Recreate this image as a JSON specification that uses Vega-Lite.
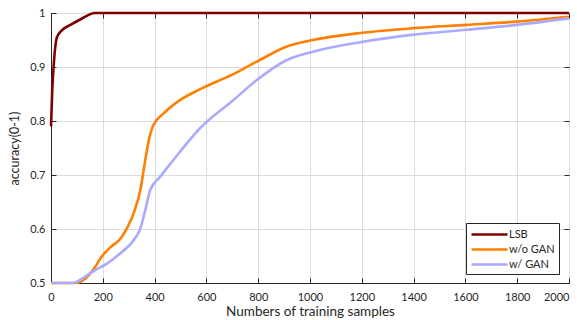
{
  "$schema": "https://vega.github.io/schema/vega-lite/v6.json",
  "width": 518,
  "height": 270,
  "autosize": {"type": "none"},
  "padding": {"left": 51, "top": 13, "right": 8, "bottom": 37},
  "background": "white",
  "config": {
    "font": "Lato",
    "view": {"stroke": "#262626", "strokeWidth": 1},
    "axis": {
      "labelFont": "Lato",
      "titleFont": "Lato",
      "labelFontSize": 11,
      "titleFontSize": 12.5,
      "titleFontWeight": "normal",
      "labelColor": "#262626",
      "titleColor": "#262626",
      "domainColor": "#262626",
      "tickColor": "#262626",
      "gridColor": "#dcdcdc",
      "gridWidth": 1
    }
  },
  "data": {
    "values": [
      {"n": 0, "acc": 0.790, "s": "LSB"},
      {"n": 5, "acc": 0.860, "s": "LSB"},
      {"n": 10, "acc": 0.900, "s": "LSB"},
      {"n": 16, "acc": 0.935, "s": "LSB"},
      {"n": 23, "acc": 0.955, "s": "LSB"},
      {"n": 42, "acc": 0.968, "s": "LSB"},
      {"n": 75, "acc": 0.978, "s": "LSB"},
      {"n": 113, "acc": 0.988, "s": "LSB"},
      {"n": 170, "acc": 1.0, "s": "LSB"},
      {"n": 500, "acc": 1.0, "s": "LSB"},
      {"n": 1000, "acc": 1.0, "s": "LSB"},
      {"n": 1500, "acc": 1.0, "s": "LSB"},
      {"n": 2000, "acc": 1.0, "s": "LSB"},

      {"n": 0, "acc": 0.5, "s": "w/o GAN"},
      {"n": 94, "acc": 0.5, "s": "w/o GAN"},
      {"n": 132, "acc": 0.508, "s": "w/o GAN"},
      {"n": 171, "acc": 0.530, "s": "w/o GAN"},
      {"n": 190, "acc": 0.545, "s": "w/o GAN"},
      {"n": 229, "acc": 0.566, "s": "w/o GAN"},
      {"n": 268, "acc": 0.582, "s": "w/o GAN"},
      {"n": 293, "acc": 0.601, "s": "w/o GAN"},
      {"n": 319, "acc": 0.629, "s": "w/o GAN"},
      {"n": 345, "acc": 0.672, "s": "w/o GAN"},
      {"n": 364, "acc": 0.728, "s": "w/o GAN"},
      {"n": 378, "acc": 0.765, "s": "w/o GAN"},
      {"n": 395, "acc": 0.792, "s": "w/o GAN"},
      {"n": 435, "acc": 0.814, "s": "w/o GAN"},
      {"n": 499, "acc": 0.839, "s": "w/o GAN"},
      {"n": 576, "acc": 0.859, "s": "w/o GAN"},
      {"n": 700, "acc": 0.886, "s": "w/o GAN"},
      {"n": 795, "acc": 0.910, "s": "w/o GAN"},
      {"n": 911, "acc": 0.938, "s": "w/o GAN"},
      {"n": 1001, "acc": 0.949, "s": "w/o GAN"},
      {"n": 1194, "acc": 0.963, "s": "w/o GAN"},
      {"n": 1400, "acc": 0.972, "s": "w/o GAN"},
      {"n": 1606, "acc": 0.978, "s": "w/o GAN"},
      {"n": 1799, "acc": 0.984, "s": "w/o GAN"},
      {"n": 2000, "acc": 0.993, "s": "w/o GAN"},

      {"n": 0, "acc": 0.5, "s": "w/ GAN"},
      {"n": 87, "acc": 0.5, "s": "w/ GAN"},
      {"n": 113, "acc": 0.506, "s": "w/ GAN"},
      {"n": 164, "acc": 0.522, "s": "w/ GAN"},
      {"n": 216, "acc": 0.536, "s": "w/ GAN"},
      {"n": 268, "acc": 0.555, "s": "w/ GAN"},
      {"n": 319, "acc": 0.579, "s": "w/ GAN"},
      {"n": 345, "acc": 0.601, "s": "w/ GAN"},
      {"n": 364, "acc": 0.635, "s": "w/ GAN"},
      {"n": 383, "acc": 0.672, "s": "w/ GAN"},
      {"n": 422, "acc": 0.697, "s": "w/ GAN"},
      {"n": 473, "acc": 0.728, "s": "w/ GAN"},
      {"n": 576, "acc": 0.787, "s": "w/ GAN"},
      {"n": 705, "acc": 0.839, "s": "w/ GAN"},
      {"n": 795, "acc": 0.876, "s": "w/ GAN"},
      {"n": 911, "acc": 0.913, "s": "w/ GAN"},
      {"n": 1001, "acc": 0.927, "s": "w/ GAN"},
      {"n": 1194, "acc": 0.946, "s": "w/ GAN"},
      {"n": 1400, "acc": 0.960, "s": "w/ GAN"},
      {"n": 1606, "acc": 0.969, "s": "w/ GAN"},
      {"n": 1799, "acc": 0.978, "s": "w/ GAN"},
      {"n": 2000, "acc": 0.990, "s": "w/ GAN"}
    ]
  },
  "resolve": {"axis": {"x": "independent", "y": "independent"}},
  "layer": [
    {
      "mark": {"type": "line", "strokeWidth": 2.6, "interpolate": "monotone", "clip": false},
      "encoding": {
        "x": {
          "field": "n", "type": "quantitative",
          "scale": {"domain": [0, 2000], "nice": false},
          "axis": {
            "title": "Numbers of training samples",
            "titleFontSize": 13.5,
            "values": [0, 200, 400, 600, 800, 1000, 1200, 1400, 1600, 1800, 2000],
            "format": "d",
            "labelAlign": {"condition": {"test": "datum.value == 2000", "value": "right"}, "value": "center"},
            "tickSize": -5, "labelPadding": 13, "titlePadding": 2,
            "labelFlush": false, "labelOverlap": false
          }
        },
        "y": {
          "field": "acc", "type": "quantitative",
          "scale": {"domain": [0.5, 1], "nice": false, "zero": false},
          "axis": {
            "title": "accuracy(0-1)",
            "values": [0.5, 0.6, 0.7, 0.8, 0.9, 1],
            "labelExpr": "datum.value == 1 ? '1' : format(datum.value, '.1f')",
            "tickSize": -5, "labelPadding": 11, "titlePadding": 8,
            "labelFlush": false, "labelOverlap": false
          }
        },
        "color": {
          "field": "s", "type": "nominal",
          "scale": {"domain": ["LSB", "w/o GAN", "w/ GAN"], "range": ["#800000", "#ff8000", "#aaaaff"]},
          "legend": {
            "title": null,
            "orient": "none",
            "legendX": 415,
            "legendY": 210,
            "symbolType": "M-1,0H5",
            "symbolSize": 144,
            "symbolStrokeWidth": 2.6,
            "labelFont": "Lato",
            "labelFontSize": 11,
            "labelColor": "#262626",
            "rowPadding": 2,
            "labelOffset": 24,
            "padding": 4,
            "strokeColor": "#262626",
            "fillColor": "white"
          }
        },
        "order": {"field": "s", "sort": "descending"}
      }
    },
    {
      "mark": {"type": "point", "opacity": 0},
      "encoding": {
        "x": {
          "field": "n", "type": "quantitative",
          "axis": {
            "orient": "top", "title": null, "labels": false, "grid": false, "domain": false,
            "values": [0, 200, 400, 600, 800, 1000, 1200, 1400, 1600, 1800, 2000],
            "tickSize": -5
          }
        },
        "y": {
          "field": "acc", "type": "quantitative",
          "axis": {
            "orient": "right", "title": null, "labels": false, "grid": false, "domain": false,
            "values": [0.5, 0.6, 0.7, 0.8, 0.9, 1],
            "tickSize": -5
          }
        }
      }
    }
  ]
}
